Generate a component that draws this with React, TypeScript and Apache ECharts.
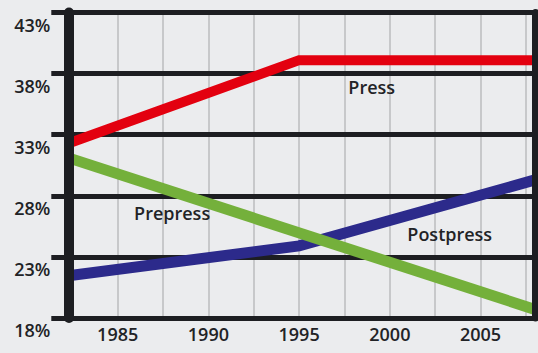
import React, { useEffect, useRef } from 'react';
import * as echarts from 'echarts';

const BASE = 18;
const yMaxValue = 43;
const yStep = 5;
const xMin = 1982.5;
const xMax = 2008;
const xStep = 2.5;

const seriesNames = ['Press', 'Prepress', 'Postpress'];
const pressYears = [1982.5, 1995, 2008];
const pressValues = [32.4, 39.1, 39.1];
const prepressYears = [1982.5, 2008];
const prepressValues = [31.0, 18.7];
const postpressYears = [1982.5, 1995, 2008];
const postpressValues = [21.5, 23.9, 29.3];

const labelYears = [1999, 1988, 2003.3];
const labelValues = [36.9, 26.6, 24.9];

const COLORS = { press: '#e3000f', prepress: '#74b03b', postpress: '#2c2a8b' };
const INK = '#1d1e22';
const FONT = '"Open Sans", "Noto Sans", sans-serif';

function pairs(xs: number[], ys: number[]) {
  return xs.map((x, i) => [x, ys[i] - BASE]);
}

export default function App() {
  const ref = useRef<HTMLDivElement>(null);
  useEffect(() => {
    if (!ref.current) return;
    const chart = echarts.init(ref.current, undefined, { renderer: 'svg' });
    const labelStyle = {
      show: true,
      position: 'inside',
      fontSize: 18,
      fontWeight: 600,
      fontFamily: FONT,
      color: '#222326',
    };
    const mkPoint = (i: number) => ({
      symbol: 'circle',
      symbolSize: 1,
      itemStyle: { color: 'rgba(0,0,0,0)' },
      label: { ...labelStyle, formatter: seriesNames[i] },
      data: [{ coord: [labelYears[i], labelValues[i] - BASE] }],
    });
    const lineSeries = (i: number, data: number[][], color: string, width: number) => ({
      type: 'line',
      name: seriesNames[i],
      data,
      yAxisIndex: 0,
      symbol: 'none',
      z: 3,
      lineStyle: { color, width, join: 'miter', cap: 'butt' },
      markPoint: mkPoint(i),
    });
    chart.setOption({
      animation: false,
      backgroundColor: '#ebecee',
      grid: { left: 72.3, right: 3, top: 12.5, bottom: 35, containLabel: false, outerBoundsMode: 'none' },
      xAxis: {
        type: 'value',
        min: xMin,
        max: xMax,
        interval: xStep,
        z: 0,
        axisLine: { show: false },
        axisTick: { show: false },
        splitLine: { show: true, lineStyle: { color: '#c7c8ca', width: 2 } },
        axisLabel: {
          margin: 7,
          fontSize: 18,
          fontWeight: 600,
          fontFamily: FONT,
          color: '#222326',
          lineHeight: 18,
          showMinLabel: false,
          showMaxLabel: false,
          formatter: (v: number) => (v % 5 === 0 ? String(v) : ''),
        },
      },
      yAxis: [
        {
          type: 'value',
          min: 0,
          max: yMaxValue - BASE,
          interval: yStep,
          z: 1,
          axisLine: { show: false },
          axisTick: { show: true, length: 21, lineStyle: { color: INK, width: 5 } },
          splitLine: { show: true, lineStyle: { color: INK, width: 5 } },
          axisLabel: {
            margin: 22,
            fontSize: 18,
            fontWeight: 600,
            fontFamily: FONT,
            color: '#222326',
            verticalAlign: 'top',
            lineHeight: 18,
            padding: [3, 0, 0, 0],
            formatter: (v: number) => `${v + BASE}%`,
          },
        },
        {
          type: 'value',
          position: 'left',
          offset: 3.6,
          min: 0,
          max: yMaxValue - BASE,
          z: 10,
          axisLine: { show: true, lineStyle: { color: INK, width: 10 } },
          axisTick: { show: false },
          axisLabel: { show: false },
          splitLine: { show: false },
        },
        {
          type: 'value',
          position: 'right',
          min: 0,
          max: yMaxValue - BASE,
          z: 10,
          axisLine: { show: true, lineStyle: { color: INK, width: 7 } },
          axisTick: { show: false },
          axisLabel: { show: false },
          splitLine: { show: false },
        },
      ],
      series: [
        lineSeries(2, pairs(postpressYears, postpressValues), COLORS.postpress, 11),
        lineSeries(0, pairs(pressYears, pressValues), COLORS.press, 10),
        lineSeries(1, pairs(prepressYears, prepressValues), COLORS.prepress, 11),
      ],
    });
    return () => chart.dispose();
  }, []);
  return (
    <div
      ref={ref}
      style={{ position: 'fixed', left: 0, top: 0, width: 538, height: 353 }}
    />
  );
}
